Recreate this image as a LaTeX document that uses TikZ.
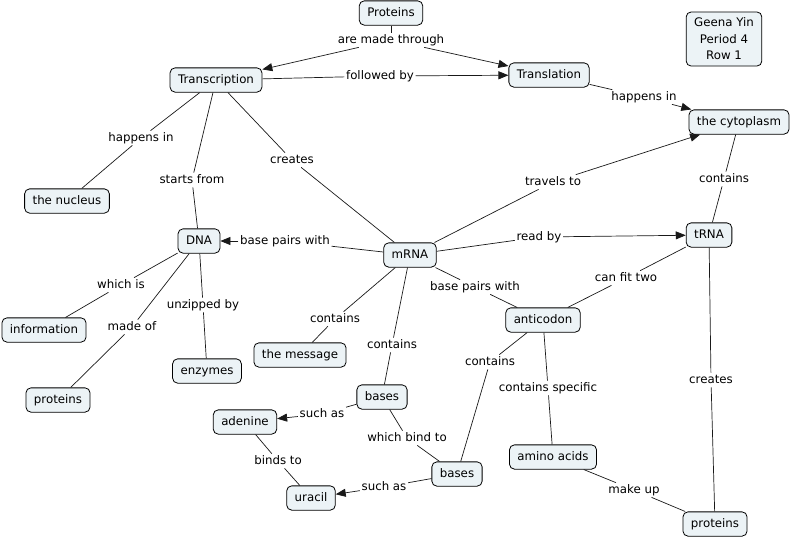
\documentclass[tikz,border=0pt]{standalone}
\usepackage{fontspec}
\setmainfont{DejaVu Sans}
\usetikzlibrary{arrows.meta}
\definecolor{cfill}{RGB}{236,243,246}
\definecolor{lk}{RGB}{25,25,25}
\begin{document}
\begin{tikzpicture}[x=1pt,y=-1pt,
  concept/.style={draw=black, line width=0.8pt, fill=cfill, rounded corners=5pt, inner xsep=8pt, inner ysep=6.5pt, text height=8.7pt, text depth=2.6pt, font=\fontsize{11.8}{14}\selectfont},
  lbl/.style={inner sep=1.5pt, text height=8.7pt, text depth=2.6pt, font=\fontsize{11.8}{14}\selectfont},
  link/.style={draw=lk, line width=0.7pt},
  arr/.style={link, -{Triangle[length=10pt,width=8pt]}}]
\useasboundingbox (0,0) rectangle (791,541);
% concepts
\node[concept] (prot) at (391,13) {Proteins};
\node[concept] (transc) at (216,80) {Transcription};
\node[concept] (transl) at (549,75) {Translation};
\node[concept, align=center, font=\fontsize{11.8}{16.5}\selectfont, inner ysep=6pt, text height=, text depth=] (name) at (724,39) {Geena Yin\\Period 4\\Row 1};
\node[concept] (cyto) at (739,122) {the cytoplasm};
\node[concept] (nucl) at (67,201) {the nucleus};
\node[concept] (dna) at (199,241) {DNA};
\node[concept] (mrna) at (410,255) {mRNA};
\node[concept] (trna) at (709,235) {tRNA};
\node[concept] (info) at (44,330) {information};
\node[concept] (enz) at (207,371) {enzymes};
\node[concept] (protl) at (58,400) {proteins};
\node[concept] (msg) at (300,355) {the message};
\node[concept] (anti) at (543,320) {anticodon};
\node[concept] (basesu) at (382,397) {bases};
\node[concept] (aden) at (245,422) {adenine};
\node[concept] (basesl) at (457,474) {bases};
\node[concept] (ura) at (311,498) {uracil};
\node[concept] (amino) at (553,457) {amino acids};
\node[concept] (protr) at (715,524) {proteins};
% link labels
\node[lbl] (l1) at (391,40) {are made through};
\node[lbl] (l2) at (380,76) {followed by};
\node[lbl] (l3) at (644,97) {happens in};
\node[lbl] (l4) at (141,138) {happens in};
\node[lbl] (l5) at (192,180) {starts from};
\node[lbl] (l6) at (292,160) {creates};
\node[lbl] (l7) at (285,241) {base pairs with};
\node[lbl] (l8) at (553,182) {travels to};
\node[lbl] (l9) at (539,237) {read by};
\node[lbl] (l10) at (724,179) {contains};
\node[lbl] (l11) at (121,285) {which is};
\node[lbl] (l12) at (132,327) {made of};
\node[lbl] (l13) at (203,305) {unzipped by};
\node[lbl] (l14) at (335,319) {contains};
\node[lbl] (l15) at (392,345) {contains};
\node[lbl] (l16) at (475,287) {base pairs with};
\node[lbl] (l17) at (626,278) {can fit two};
\node[lbl] (l18) at (490,362) {contains};
\node[lbl] (l19) at (548,388) {contains specific};
\node[lbl] (l20) at (711,380) {creates};
\node[lbl] (l21) at (634,490) {make up};
\node[lbl] (l22) at (322,414) {such as};
\node[lbl] (l23) at (407,438) {which bind to};
\node[lbl] (l24) at (278,461) {binds to};
\node[lbl] (l25) at (384,487) {such as};
% connectors
\draw[link] (prot) -- (l1);
\draw[arr] (l1) -- (transc);
\draw[arr] (l1) -- (transl);
\draw[link] (transc) -- (l2);
\draw[arr] (l2) -- (transl);
\draw[link] (transl) -- (l3);
\draw[arr] (l3) -- (cyto);
\draw[link] (transc) -- (l4);
\draw[link] (l4) -- (nucl);
\draw[link] (transc) -- (l5);
\draw[link] (l5) -- (dna);
\draw[link] (transc) -- (l6);
\draw[link] (l6) -- (mrna);
\draw[link] (mrna) -- (l7);
\draw[arr] (l7) -- (dna);
\draw[link] (mrna) -- (l8);
\draw[arr] (l8) -- (cyto);
\draw[link] (mrna) -- (l9);
\draw[arr] (l9) -- (trna);
\draw[link] (cyto) -- (l10);
\draw[link] (l10) -- (trna);
\draw[link] (dna) -- (l11);
\draw[link] (l11) -- (info);
\draw[link] (dna) -- (l12);
\draw[link] (l12) -- (protl);
\draw[link] (dna) -- (l13);
\draw[link] (l13) -- (enz);
\draw[link] (mrna) -- (l14);
\draw[link] (l14) -- (msg);
\draw[link] (mrna) -- (l15);
\draw[link] (l15) -- (basesu);
\draw[link] (mrna) -- (l16);
\draw[link] (l16) -- (anti);
\draw[link] (trna) -- (l17);
\draw[link] (l17) -- (anti);
\draw[link] (anti) -- (l18);
\draw[link] (l18) -- (basesl);
\draw[link] (anti) -- (l19);
\draw[link] (l19) -- (amino);
\draw[link] (trna) -- (l20);
\draw[link] (l20) -- (protr);
\draw[link] (amino) -- (l21);
\draw[link] (l21) -- (protr);
\draw[link] (basesu) -- (l22);
\draw[arr] (l22) -- (aden);
\draw[link] (basesu) -- (l23);
\draw[link] (l23) -- (basesl);
\draw[link] (aden) -- (l24);
\draw[link] (l24) -- (ura);
\draw[link] (basesl) -- (l25);
\draw[arr] (l25) -- (ura);
\end{tikzpicture}
\end{document}
